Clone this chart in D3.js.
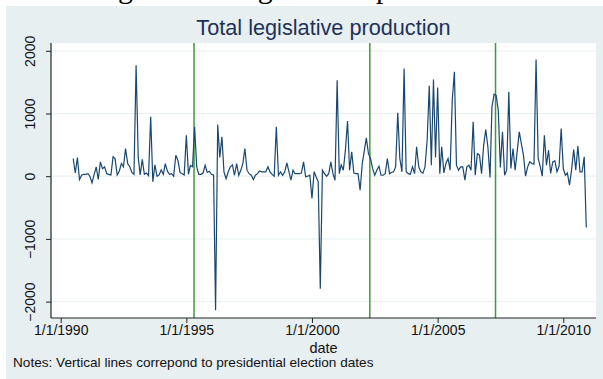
<!DOCTYPE html>
<html>
<head>
<meta charset="utf-8">
<script src="https://cdn.jsdelivr.net/npm/d3@7"></script>
<style>
  html, body { margin: 0; padding: 0; background: #ffffff; }
  svg { display: block; }
</style>
</head>
<body>
<svg id="chart" width="603" height="379"></svg>
<script>
// Monthly net legislative production, first month July 1990
const firstMonth = "1990-07-01";
const production = [
  282, 53, 298, -53, 15, 30, 30, 40, 0, -106,
  20, 149, -53, 229, 120, 149, 40, 30, 20, 309,
  280, 20, 80, 202, 150, 441, 200, 150, 60, 30,
  1771, 300, 20, 270, 30, 50, 10, 947, -90, 180,
  0, 20, 100, 30, 200, 80, 30, 40, 0, 335,
  250, 60, 40, 20, 654, 30, 170, 150, 787, 150,
  30, 30, 50, 175, 60, 80, 30, 20, -2138, 824,
  298, 628, 70, -40, 70, 150, 180, 15, 200, 15,
  90, 200, 441, 96, 40, 15, -53, 15, 40, 85,
  70, 70, 70, 149, 70, 30, 0, 787, 15, 70,
  15, 70, 213, 70, -64, 96, 40, 40, 40, 50,
  229, -10, 0, 15, -356, 70, -10, -90, -1793, 96,
  40, 0, 40, 229, 40, -64, 1532, 43, 180, 96,
  415, 878, 96, 388, 50, 40, 40, -223, 202, 415,
  612, 360, 282, 120, 15, 96, 160, 15, 15, 40,
  282, 40, 60, 70, 149, 1010, 282, 70, 1718, 70,
  40, 30, 149, 40, 468, 149, 70, 50, 149, 574,
  1441, 175, 1543, 300, 1415, 40, 468, 53, 202, 282,
  96, 1213, 1665, 175, 96, 149, 149, -64, 149, 175,
  96, 867, 15, 360, 335, 40, 500, 745, 468, -20,
  1106, 1309, 1290, 1050, 140, 707, 15, 96, 1346, 123,
  441, 96, 388, 707, 520, 335, 0, 149, 229, 202,
  192, 1862, 282, 149, 0, 654, 175, 415, 43, 229,
  245, 70, 160, 761, 122, 15, 53, -144, 96, 425,
  96, 479, 70, 70, 309, -819
];

// Presidential election dates (first round)
const electionDates = ["1995-04-23", "2002-04-21", "2007-04-22"];

// Axis ticks
const xTickDates = ["1990-01-01", "1995-01-01", "2000-01-01", "2005-01-01", "2010-01-01"];
const yTickValues = [-2000, -1000, 0, 1000, 2000];

const parse = d3.utcParse("%Y-%m-%d");
const start = parse(firstMonth);
const series = production.map((v, i) => ({ date: d3.utcMonth.offset(start, i), value: v }));

const svg = d3.select("#chart");
const W = 603, H = 379;
const sans = "Liberation Sans, Arial, sans-serif";

// Graph region background
svg.append("rect").attr("x", 6).attr("y", 6).attr("width", W - 6).attr("height", H - 6)
  .attr("fill", "#e8eff1");

// Document caption running above the graph (only its lower edge is in view)
const cap = svg.append("g").attr("font-family", "Liberation Serif, serif").attr("font-size", 30).attr("fill", "#000");
cap.append("text").attr("x", 93).attr("y", -2).text("Figure 1:");
cap.append("text").attr("x", 236).attr("y", -2).text("legislative");
cap.append("text").attr("x", 376).attr("y", -2).text("production");

// Plot region
const plot = { left: 51, right: 596, top: 43, bottom: 318 };
svg.append("rect").attr("x", plot.left).attr("y", plot.top)
  .attr("width", plot.right - plot.left).attr("height", plot.bottom - plot.top)
  .attr("fill", "#ffffff");

const x = d3.scaleUtc()
  .domain([parse(xTickDates[0]), parse(xTickDates[4])])
  .range([60.7, 563.3]);
const y = d3.scaleLinear().domain([-2000, 2000]).range([301.6, 50.8]);

// Horizontal gridlines
svg.append("g").selectAll("line").data(yTickValues).join("line")
  .attr("x1", plot.left).attr("x2", plot.right)
  .attr("y1", d => y(d)).attr("y2", d => y(d))
  .attr("stroke", "#eaf1f3").attr("stroke-width", 1.2);

// Election markers
svg.append("g").selectAll("line").data(electionDates.map(parse)).join("line")
  .attr("x1", d => x(d)).attr("x2", d => x(d))
  .attr("y1", plot.top).attr("y2", plot.bottom)
  .attr("stroke", "#3d9a3a").attr("stroke-width", 1.5);

// Series line
const line = d3.line().x(d => x(d.date)).y(d => y(d.value));
svg.append("path").datum(series)
  .attr("d", line)
  .attr("fill", "none")
  .attr("stroke", "#1a476f")
  .attr("stroke-width", 1.2)
  .attr("stroke-linejoin", "miter");

const fmt = d3.utcFormat("%-m/%-d/%Y");

// X axis
const xAxis = d3.axisBottom(x).tickValues(xTickDates.map(parse)).tickFormat(fmt)
  .tickSizeInner(5).tickSizeOuter(0).tickPadding(2);
const gx = svg.append("g").attr("transform", `translate(0,${plot.bottom})`).call(xAxis);
gx.select(".domain").remove();
gx.append("line").attr("x1", plot.left).attr("x2", plot.right).attr("y1", 0).attr("y2", 0)
  .attr("stroke", "#222").attr("stroke-width", 1.2);
gx.selectAll(".tick line").attr("stroke", "#222");
gx.selectAll(".tick text").attr("font-family", sans)
  .attr("font-size", 14).attr("fill", "#111");

// Y axis
const yAxis = d3.axisLeft(y).tickValues(yTickValues).tickFormat(d3.format("d"))
  .tickSizeInner(5).tickSizeOuter(0).tickPadding(4);
const gy = svg.append("g").attr("transform", `translate(${plot.left},0)`).call(yAxis);
gy.select(".domain").remove();
gy.append("line").attr("x1", 0).attr("x2", 0).attr("y1", plot.top).attr("y2", plot.bottom)
  .attr("stroke", "#222").attr("stroke-width", 1.2);
gy.selectAll(".tick line").attr("stroke", "#222");
gy.selectAll(".tick text")
  .attr("font-family", sans)
  .attr("font-size", 14).attr("fill", "#111")
  .attr("text-anchor", "middle").attr("dy", null).attr("x", null)
  .attr("transform", "translate(-16,0) rotate(-90)")
  .text(d => d3.format("d")(d).replace("-", "\u2212"));

// Title
svg.append("text").attr("x", (plot.left + plot.right) / 2).attr("y", 35)
  .attr("text-anchor", "middle")
  .attr("font-family", sans).attr("font-size", 21.7)
  .attr("fill", "#1e3157").text("Total legislative production");

// Axis title
svg.append("text").attr("x", (plot.left + plot.right) / 2).attr("y", 352.5)
  .attr("text-anchor", "middle")
  .attr("font-family", sans).attr("font-size", 14.5)
  .attr("fill", "#111").text("date");

// Note
svg.append("text").attr("x", 13).attr("y", 366.5)
  .attr("font-family", sans).attr("font-size", 13.6)
  .attr("fill", "#111").text("Notes: Vertical lines correpond to presidential election dates");
</script>
</body>
</html>
